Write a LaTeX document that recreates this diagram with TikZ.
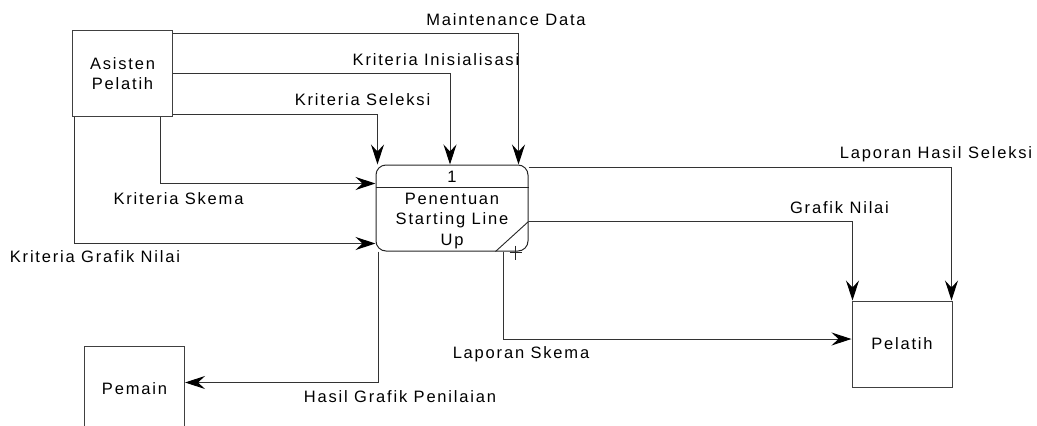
\documentclass[tikz,border=0pt]{standalone}
\usepackage{fontspec}
\setmainfont{Liberation Sans}[LetterSpace=11]
\usetikzlibrary{arrows.meta,positioning,calc}
\newcommand{\dfdfont}{\fontsize{16.5}{20.5}\selectfont}
\tikzset{
  ent/.style={rectangle, draw=black!75, line width=1pt, minimum width=100pt,
              minimum height=86pt, inner sep=0pt, align=center, font=\dfdfont},
  proc/.style={rectangle, rounded corners=10pt, draw=black!85, line width=1pt,
               minimum width=152pt, minimum height=86pt, inner sep=0pt},
  procline/.style={draw=black!85, line width=0.9pt},
  flow/.style={-{Stealth[length=20pt, width=13pt, inset=7pt, color=black]},
               line width=1pt, draw=black!80},
  lbl/.style={font=\dfdfont, inner sep=0pt},
}

\begin{document}
\begin{tikzpicture}[x=1pt, y=-1pt]
\useasboundingbox (0,0) rectangle (1037,426);

% ============================ external entities =========================
\node[ent] (asisten) at (122.5,73.5) {Asisten\\Pelatih};
\node[ent] (pemain)  at (134.5,389)  {Pemain};
\node[ent] (pelatih) at (902,344)    {Pelatih};

% ============================ process 1 =================================
\node[proc] (proses) at (452,208) {};
\draw[procline] ([yshift=-23pt]proses.north west) -- ([yshift=-23pt]proses.north east);
\node[lbl] (pnum) at ([yshift=-12pt]proses.north) {1};
\node[lbl, align=center] (pname) at ([yshift=-13pt]proses.center)
  {Penentuan\\Starting Line\\Up};
\draw[procline] ([xshift=-33pt]proses.south east) -- ([yshift=30pt]proses.south east);
\draw[procline] ([shift={(-13,1)}]proses.south east) +(-6,0) -- +(6,0)
  +(0,-7) -- +(0,7);

% ============================ inputs from Asisten Pelatih ===============
\draw[flow] ([yshift=-3pt]asisten.north east) -| ([xshift=-10pt]proses.north east);
\draw[flow] (asisten.east) -| ([xshift=-2pt]proses.north);
\draw[flow] ([yshift=3pt]asisten.south east) -| ([xshift=2pt]proses.north west);
\draw[flow] ([xshift=-13pt]asisten.south east) |- ([yshift=-19pt]proses.north west);
\draw[flow] ([xshift=2pt]asisten.south west) |- ([yshift=8pt]proses.south west);

% ============================ outputs ===================================
\draw[flow] ([yshift=-3pt]proses.north east) -| ([xshift=-1pt]pelatih.north east);
\draw[flow] ([yshift=30pt]proses.south east) -| ([xshift=1pt]pelatih.north west);
\draw[flow] ([xshift=-25pt]proses.south east) |- ([yshift=5pt]pelatih.west);
\draw[flow] ([xshift=3pt]proses.south west) |- ([yshift=6.5pt]pemain.east);

% ============================ flow labels ===============================
\node[lbl] (lmaint) at (506,20)   {Maintenance Data};
\node[lbl] (linit)  at (436,60)   {Kriteria Inisialisasi};
\node[lbl] (lsel)   at (362.5,100) {Kriteria Seleksi};
\node[lbl] (lskema) at (178.5,199) {Kriteria Skema};
\node[lbl] (lgraf)  at (95,257)   {Kriteria Grafik Nilai};
\node[lbl] (llhs)   at (936,154)  {Laporan Hasil Seleksi};
\node[lbl] (lgn)    at (839.5,208) {Grafik Nilai};
\node[lbl] (lls)    at (521,354)  {Laporan Skema};
\node[lbl] (lhgp)   at (400,397)  {Hasil Grafik Penilaian};

\end{tikzpicture}
\end{document}
